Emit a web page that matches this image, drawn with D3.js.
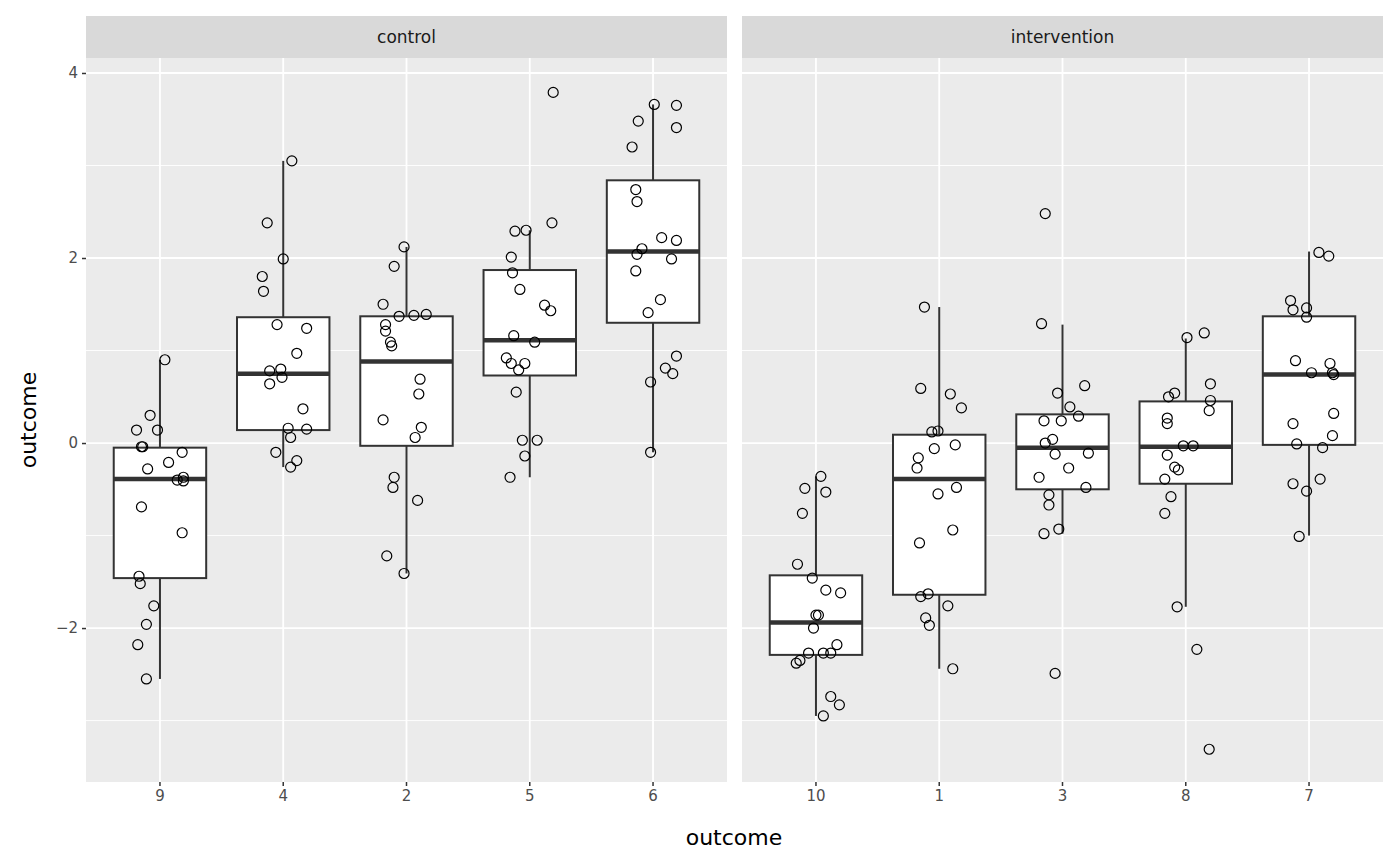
<!DOCTYPE html>
<html><head><meta charset="utf-8">
<script src="https://cdn.jsdelivr.net/npm/d3@7"></script>
<style>body{margin:0;background:#fff}text{font-family:"DejaVu Sans",sans-serif}</style>
</head><body><svg width="1400" height="866"></svg>
<script>
const panels = ["control", "intervention"];
const groups = {control: ["9", "4", "2", "5", "6"], intervention: ["10", "1", "3", "8", "7"]};
// box stats: [lowerWhisker, q1, median, q3, upperWhisker]
const boxes = {
  "9": [-2.55, -1.46, -0.39, -0.05, 0.90],
  "4": [-0.26, 0.14, 0.75, 1.36, 3.05],
  "2": [-1.41, -0.03, 0.88, 1.37, 2.12],
  "5": [-0.37, 0.73, 1.11, 1.87, 2.30],
  "6": [-0.10, 1.30, 2.07, 2.84, 3.66],
  "10": [-2.95, -2.29, -1.94, -1.43, -0.36],
  "1": [-2.44, -1.64, -0.39, 0.09, 1.47],
  "3": [-0.98, -0.50, -0.05, 0.31, 1.28],
  "8": [-1.77, -0.44, -0.04, 0.45, 1.13],
  "7": [-1.00, -0.02, 0.74, 1.37, 2.07]
};
// points: [jitter (band units), outcome]
const points = {
  "9": [[-0.19,0.14],[-0.15,-0.04],[-0.14,-0.04],[-0.08,0.30],[-0.02,0.14],[0.07,-0.21],[-0.10,-0.28],[0.14,-0.40],[0.18,-0.10],[0.19,-0.37],[0.19,-0.41],[-0.15,-0.69],[0.18,-0.97],[-0.17,-1.44],[-0.16,-1.52],[-0.05,-1.76],[-0.11,-1.96],[-0.18,-2.18],[-0.11,-2.55],[0.04,0.90]],
  "4": [[0.07,3.05],[-0.13,2.38],[0.00,1.99],[-0.17,1.80],[-0.16,1.64],[-0.05,1.28],[0.19,1.24],[0.11,0.97],[-0.11,0.78],[-0.02,0.80],[-0.11,0.64],[-0.01,0.71],[0.16,0.37],[0.04,0.16],[0.19,0.15],[0.06,0.06],[-0.06,-0.10],[0.11,-0.19],[0.06,-0.26]],
  "2": [[-0.02,2.12],[-0.10,1.91],[-0.19,1.50],[-0.06,1.37],[0.06,1.38],[0.16,1.39],[-0.17,1.28],[-0.17,1.21],[-0.13,1.09],[-0.12,1.05],[0.11,0.69],[0.10,0.53],[-0.19,0.25],[0.12,0.17],[0.07,0.06],[-0.10,-0.37],[-0.11,-0.48],[0.09,-0.62],[-0.16,-1.22],[-0.02,-1.41]],
  "5": [[0.19,3.79],[-0.03,2.30],[-0.12,2.29],[0.18,2.38],[-0.15,2.01],[-0.14,1.84],[-0.08,1.66],[0.12,1.49],[0.17,1.43],[0.04,1.09],[-0.13,1.16],[-0.19,0.92],[-0.15,0.86],[-0.04,0.86],[-0.09,0.79],[-0.11,0.55],[-0.06,0.03],[0.06,0.03],[-0.04,-0.14],[-0.16,-0.37]],
  "6": [[0.01,3.66],[0.19,3.65],[-0.12,3.48],[0.19,3.41],[-0.17,3.20],[-0.14,2.74],[-0.13,2.61],[0.07,2.22],[-0.09,2.10],[0.19,2.19],[0.15,1.99],[-0.13,2.04],[-0.14,1.86],[0.06,1.55],[-0.04,1.41],[0.19,0.94],[0.10,0.81],[0.16,0.75],[-0.02,0.66],[-0.02,-0.10]],
  "10": [[0.04,-0.36],[-0.09,-0.49],[0.08,-0.53],[-0.11,-0.76],[-0.15,-1.31],[-0.03,-1.46],[0.08,-1.59],[0.20,-1.62],[0.00,-1.86],[0.02,-1.86],[-0.02,-2.00],[-0.06,-2.27],[0.06,-2.27],[0.12,-2.27],[0.17,-2.18],[-0.13,-2.35],[-0.16,-2.38],[0.12,-2.74],[0.19,-2.83],[0.06,-2.95]],
  "1": [[-0.12,1.47],[0.18,0.38],[0.09,0.53],[-0.15,0.59],[-0.06,0.12],[-0.01,0.13],[0.13,-0.02],[-0.04,-0.06],[-0.17,-0.16],[-0.18,-0.27],[0.14,-0.48],[-0.01,-0.55],[0.11,-0.94],[-0.16,-1.08],[-0.09,-1.63],[-0.15,-1.66],[0.07,-1.76],[-0.11,-1.89],[-0.08,-1.97],[0.11,-2.44]],
  "3": [[-0.14,2.48],[-0.17,1.29],[0.18,0.62],[-0.04,0.54],[0.06,0.39],[0.13,0.29],[-0.15,0.24],[-0.01,0.24],[-0.08,0.04],[-0.14,0.00],[-0.06,-0.12],[0.21,-0.11],[-0.19,-0.37],[0.05,-0.27],[0.19,-0.48],[-0.11,-0.56],[-0.11,-0.67],[-0.15,-0.98],[-0.03,-0.93],[-0.06,-2.49]],
  "8": [[0.15,1.19],[0.01,1.14],[0.20,0.64],[-0.09,0.54],[-0.14,0.50],[0.20,0.46],[0.19,0.35],[-0.15,0.27],[-0.15,0.21],[-0.02,-0.03],[0.06,-0.03],[-0.15,-0.13],[-0.09,-0.26],[-0.06,-0.29],[-0.17,-0.39],[-0.12,-0.58],[-0.17,-0.76],[-0.07,-1.77],[0.09,-2.23],[0.19,-3.31]],
  "7": [[0.08,2.06],[0.16,2.02],[-0.15,1.54],[-0.02,1.46],[-0.13,1.44],[-0.02,1.36],[-0.11,0.89],[0.17,0.86],[0.02,0.76],[0.19,0.76],[0.20,0.74],[-0.13,0.21],[0.20,0.32],[-0.10,-0.01],[0.11,-0.05],[0.19,0.08],[-0.13,-0.44],[0.09,-0.39],[-0.02,-0.52],[-0.08,-1.01]]
};
const yTicks = [-2, 0, 2, 4];
const yMinor = [-3, -1, 1, 3];

const svg = d3.select("svg");
const plotTop = 58, plotBottom = 782, stripTop = 16;
const panelX = [[86, 727], [742, 1383]];
const y = d3.scaleLinear().domain([-3.664, 4.162]).range([plotBottom, plotTop]);

panels.forEach((p, i) => {
  const [x0, x1] = panelX[i];
  const x = d3.scaleBand().domain(groups[p]).range([x0, x1]).paddingOuter(0.1).paddingInner(0);
  const bw = x.bandwidth();
  const cx = g => x(g) + bw / 2;
  const g = svg.append("g");
  g.append("rect").attr("x", x0).attr("y", plotTop).attr("width", x1 - x0).attr("height", plotBottom - plotTop).attr("fill", "#ebebeb");
  g.selectAll(".mn").data(yMinor).join("line").attr("x1", x0).attr("x2", x1)
    .attr("y1", d => y(d)).attr("y2", d => y(d)).attr("stroke", "#fff").attr("stroke-width", 0.9);
  g.selectAll(".mj").data(yTicks).join("line").attr("x1", x0).attr("x2", x1)
    .attr("y1", d => y(d)).attr("y2", d => y(d)).attr("stroke", "#fff").attr("stroke-width", 1.8);
  g.selectAll(".vx").data(groups[p]).join("line").attr("x1", cx).attr("x2", cx)
    .attr("y1", plotTop).attr("y2", plotBottom).attr("stroke", "#fff").attr("stroke-width", 1.8);
  // strip
  g.append("rect").attr("x", x0).attr("y", stripTop).attr("width", x1 - x0).attr("height", plotTop - stripTop).attr("fill", "#d9d9d9");
  g.append("text").attr("x", (x0 + x1) / 2).attr("y", (stripTop + plotTop) / 2 + 6).attr("text-anchor", "middle")
    .attr("font-size", 17).attr("fill", "#1a1a1a").text(p);
  // boxes
  const hw = bw * 0.375;
  groups[p].forEach(k => {
    const [lo, q1, med, q3, hi] = boxes[k];
    const c = cx(k);
    g.append("line").attr("x1", c).attr("x2", c).attr("y1", y(hi)).attr("y2", y(q3)).attr("stroke", "#333").attr("stroke-width", 2);
    g.append("line").attr("x1", c).attr("x2", c).attr("y1", y(q1)).attr("y2", y(lo)).attr("stroke", "#333").attr("stroke-width", 2);
    g.append("rect").attr("x", c - hw).attr("width", hw * 2).attr("y", y(q3)).attr("height", y(q1) - y(q3))
      .attr("fill", "#fff").attr("stroke", "#333").attr("stroke-width", 2);
    g.append("line").attr("x1", c - hw).attr("x2", c + hw).attr("y1", y(med)).attr("y2", y(med)).attr("stroke", "#333").attr("stroke-width", 4.5);
    g.selectAll(null).data(points[k]).join("circle")
      .attr("cx", d => c + d[0] * bw).attr("cy", d => y(d[1])).attr("r", 5)
      .attr("fill", "none").attr("stroke", "#000").attr("stroke-width", 1.2);
  });
  // x axis
  const ax = g.append("g").attr("transform", `translate(0,${plotBottom})`)
    .call(d3.axisBottom(x).tickSize(4).tickPadding(4));
  ax.select(".domain").remove();
  ax.selectAll("line").attr("stroke", "#333").attr("stroke-width", 1.5);
  ax.selectAll("text").attr("font-size", 15).attr("fill", "#4d4d4d").attr("font-family", "DejaVu Sans");
});

const ay = svg.append("g").attr("transform", `translate(86,0)`)
  .call(d3.axisLeft(y).tickValues(yTicks).tickSize(4).tickPadding(4).tickFormat(d3.format("d")));
ay.select(".domain").remove();
ay.selectAll("line").attr("stroke", "#333").attr("stroke-width", 1.5);
ay.selectAll("text").attr("font-size", 15).attr("fill", "#4d4d4d").attr("font-family", "DejaVu Sans");

svg.append("text").attr("x", 734).attr("y", 845).attr("text-anchor", "middle").attr("font-size", 22).attr("fill", "#000").text("outcome");
svg.append("text").attr("transform", "translate(36,420) rotate(-90)").attr("text-anchor", "middle").attr("font-size", 22).attr("fill", "#000").text("outcome");
</script></body></html>
